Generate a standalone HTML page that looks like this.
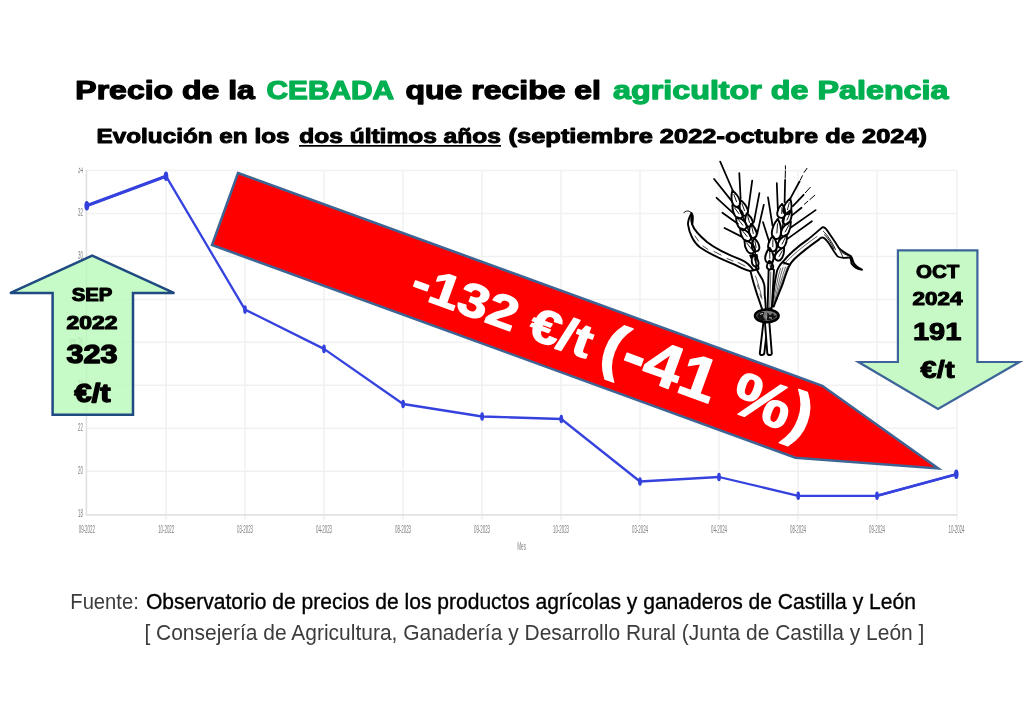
<!DOCTYPE html>
<html lang="es">
<head>
<meta charset="utf-8">
<title>Precio de la CEBADA que recibe el agricultor de Palencia</title>
<style>
html,body{margin:0;padding:0;background:#fff;}
body{width:1024px;height:724px;overflow:hidden;position:relative;font-family:"Liberation Sans",sans-serif;}
svg{position:absolute;left:0;top:0;display:block;}
text{font-family:"Liberation Sans",sans-serif;}
.blk{font-weight:bold;stroke-linejoin:round;paint-order:stroke fill;}
.tick{font-size:11px;fill:#7d7d7d;}
</style>
</head>
<body>
<svg id="main" width="1024" height="724" viewBox="0 0 1024 724">
<defs>
<filter id="soft" x="-5%" y="-5%" width="110%" height="110%"><feGaussianBlur stdDeviation="0.6"/></filter>
</defs>

<!-- ===== chart ===== -->
<g id="chart" filter="url(#soft)">
<g stroke="#f1f1f1" stroke-width="1.5" fill="none">
<path d="M86 170.5H957M86 213.4H957M86 256.4H957M86 299.4H957M86 342.3H957M86 385.3H957M86 428.3H957M86 471.2H957"/>
<path d="M166 170V520M245 170V520M324 170V520M403 170V520M482 170V520M561 170V520M640 170V520M719 170V520M798 170V520M877 170V520M957 170V520"/>
</g>
<path d="M86.4 170V515.5M85.6 514.8H957" stroke="#e2e2e2" stroke-width="1.7" fill="none"/>
<polyline points="86.5,205.8 166,176.2 245,309.6 324,348.9 403.1,404 482.1,416.5 561.3,419 640,481.5 719,477 798.2,495.8 877,495.8 956.3,474.3" fill="none" stroke="#3643de" stroke-width="2.3" stroke-linejoin="round"/>
<path d="M86.5,205.8 L166,176.2" stroke="#3643de" stroke-width="3.1" fill="none" stroke-linecap="round"/><path d="M877,495.8 L956.3,474.3" stroke="#3643de" stroke-width="2.7" fill="none" stroke-linecap="round"/>
<g fill="#3340dc">
<ellipse cx="86.8" cy="205.8" rx="2.4" ry="4.8"/><ellipse cx="166" cy="176.2" rx="2.3" ry="4.8"/><ellipse cx="245" cy="309.6" rx="1.9" ry="4.3"/><ellipse cx="324" cy="348.9" rx="1.9" ry="4.3"/><ellipse cx="403.1" cy="404" rx="1.9" ry="4.3"/><ellipse cx="482.1" cy="416.5" rx="1.9" ry="4.3"/><ellipse cx="561.3" cy="419" rx="1.9" ry="4.3"/><ellipse cx="640" cy="481.5" rx="1.9" ry="4.3"/><ellipse cx="719" cy="477" rx="1.9" ry="4.3"/><ellipse cx="798.2" cy="495.8" rx="1.9" ry="4.3"/><ellipse cx="877" cy="495.8" rx="1.9" ry="4.3"/><ellipse cx="956.3" cy="474.3" rx="2.3" ry="4.8"/>
</g>
</g>

<!-- ===== tick labels ===== -->
<g class="tick" filter="url(#soft)">
<g text-anchor="middle">
<text transform="translate(86.8,533) scale(0.4,1)">09-2022</text>
<text transform="translate(166.2,533) scale(0.4,1)">10-2022</text>
<text transform="translate(245.0,533) scale(0.4,1)">03-2023</text>
<text transform="translate(324.0,533) scale(0.4,1)">04-2023</text>
<text transform="translate(403.0,533) scale(0.4,1)">08-2023</text>
<text transform="translate(482.0,533) scale(0.4,1)">09-2023</text>
<text transform="translate(561.0,533) scale(0.4,1)">10-2023</text>
<text transform="translate(640.0,533) scale(0.4,1)">03-2024</text>
<text transform="translate(719.0,533) scale(0.4,1)">04-2024</text>
<text transform="translate(798.0,533) scale(0.4,1)">08-2024</text>
<text transform="translate(877.0,533) scale(0.4,1)">09-2024</text>
<text transform="translate(956.5,533) scale(0.4,1)">10-2024</text>
<text transform="translate(521.6,550.4) scale(0.44,1)" font-size="10.5">Mes</text>
</g>
<text transform="translate(75.5,345) rotate(-90) scale(0.42,1)" text-anchor="middle" font-size="10.5">Precio</text>
<g text-anchor="end">
<text transform="translate(83,173.4) scale(0.4,1)">34</text>
<text transform="translate(83,216.3) scale(0.4,1)">32</text>
<text transform="translate(83,259.3) scale(0.4,1)">30</text>
<text transform="translate(83,302.3) scale(0.4,1)">28</text>
<text transform="translate(83,345.2) scale(0.4,1)">26</text>
<text transform="translate(83,388.2) scale(0.4,1)">24</text>
<text transform="translate(83,431.2) scale(0.4,1)">22</text>
<text transform="translate(83,474.1) scale(0.4,1)">20</text>
<text transform="translate(83,517.3) scale(0.4,1)">18</text>
</g>
</g>

<rect x="60" y="158" width="26" height="9.6" fill="#fff"/>
<!-- ===== wheat ===== -->
<g id="wheat">
<g fill="#fff" stroke="#000" stroke-width="1.9" stroke-linejoin="round" stroke-linecap="round">
<!-- left leaf -->
<path d="M691.5,213 C694.5,217 692,221 692.4,224.9 C694,230 701,237 707.3,242.3 C716,249 730,255.5 740.9,259.7 C746,261.8 751,266 754.6,272 C748,271.5 740,267.5 734.7,264.7 C722,259.5 707,252.5 699.9,247.3 C693,242 689,232 688.1,224.9 C687.5,220 690,216 691.5,213 Z"/>
<path d="M691.5,213.5 C693.8,217 691.5,221 692,225 C690.5,222.5 690.3,217.5 691.5,213.5 Z" fill="#000" stroke-width="0.8"/>
<path d="M683.8,212.8 C685.2,210.4 689.6,210.2 691.5,213" fill="none" stroke-width="1"/>
<path d="M695,236 L698.5,241 M703,246 L708,249.5 M714,251.5 L721,255 M727,258.5 L733,261 M738,262.5 L745,266" fill="none" stroke-width="0.7"/>
<!-- right leaf -->
<path d="M782.4,262.3 C790,253 800,245 807.3,239.9 C812,236.5 818,231 822.2,227.4 C825,226.5 827,230 828.5,232.4 C831,236 836,243 838.4,247.3 C841,250.5 847,254 850.8,256 C852.5,258 852.5,260 853.3,262.3 C855,265.5 858,268 862,269.7 C859,269.5 857,269 855.8,267.9 C853,265.5 852,264 851.5,263.5 C851,260 851,258 849.6,257.3 C847,257.8 845,258 843.4,257.9 C840,257.5 838,257 837.2,256 C835,253 833,250 832.2,248.6 C830,245 828.5,242.5 827.2,241.1 C825.5,239 824,237.5 822.2,237.4 C820,238 819,239.5 818.5,239.9 C812,244.5 802,252 794.9,258.5 C792,261.5 790.5,263.5 789.9,264.8 Z"/>
<path d="M823.5,231.5 C827,234.5 832,242 835.5,249.5 M824.5,234.8 C828,237.5 831,243 834,249 M838.4,247.3 C840,251 842,255 843.4,257.9 M850.8,256 C848,255.5 845,255 841.5,252" fill="none" stroke-width="0.9"/>
<!-- right sheath -->
<path d="M772.3,306 C773,296 775,280 777,271 C779,266 781,263.5 782.4,262.3 L789.9,264.8 C787,270 784,280 782.4,284.7 C780,291 776,300 773.8,306.5 Z"/>
<path d="M773.6,303 C775,292 777.5,278 780.5,268.5 M774.6,303 C776.5,292 779.5,278 783,267.5 M775.6,302 C778,291 781.5,278 785.5,267 M776.8,300 C779.5,290 783,278 787.6,266.5 M783.5,265 C790,257 802,247 817,236.5" fill="none" stroke-width="0.6"/>
<!-- central stem -->
<path d="M767.6,309 L768.6,270.5 L771.5,268 L774,270 L771.8,308 Z"/>
<path d="M769.8,307 L770.8,272" fill="none" stroke-width="0.6"/>
<!-- left ear stem + sheath -->
<path d="M750.3,255.7 L756.8,269.5 L758.6,268.8 L756.8,255 Z"/>
<path d="M750.5,271 C752,278 755,288 757.5,295.6 C759.5,301 761,306 762.6,310.5 L765.8,309 C765.5,303 765.3,299 764.8,295.6 C764.5,291 765,287 764.1,284 C763,279.5 760.5,276 759,273.8 C758,272 757.3,270.5 756.8,269.5 Z"/>
<path d="M755.5,276 C758,283 760.5,291 762,299 M757.5,285 L758.5,288.5 M760,294 L760.8,297" fill="none" stroke-width="0.6"/>
<!-- lower stems -->
<path d="M763.6,320.5 L768,320.5 L764.3,353.4 C764,355.6 759.6,355.6 759.8,353.4 Z"/>
<path d="M764.8,320.5 L769.2,320.5 L771.8,353.4 C771.9,355.6 767.4,355.6 767.3,353.4 Z"/>
</g>
<!-- knot -->
<ellipse cx="766.8" cy="315.8" rx="11.8" ry="6.3" fill="#777" stroke="#000" stroke-width="2.6"/>
<path d="M757,316.5 C758,319.5 762,321 766,320 C763,318 762.5,315 764.5,312.5 C761,311 757.5,313 757,316.5 Z M767.5,312.5 L770,315.5 L773,312.8 L774.5,316 L777,314.5 C776,319 771,320.5 767,320 Z" fill="#111"/>
<path d="M760,314.3 L763,313.4 M769,317.6 L772,318.2 M765.5,316 L767,317.4" stroke="#ccc" stroke-width="1" fill="none"/>
<path d="M756.3,266.3 C760.5,265.2 758.5,258.6 753.0,254.3 C750.4,260.8 752.1,267.5 756.3,266.3Z M753.3,252.7 C757.8,249.6 752.8,242.7 744.5,239.9 C744.1,248.6 748.8,255.8 753.3,252.7Z M756.3,251.4 C761.2,250.7 759.9,243.4 754.3,238.1 C750.4,244.8 751.3,252.2 756.3,251.4Z M749.6,240.5 C753.9,237.2 748.5,230.5 740.1,228.1 C740.2,236.8 745.2,243.8 749.6,240.5Z M753.8,237.8 C758.7,236.8 757.0,229.1 751.1,223.7 C747.6,231.0 748.9,238.7 753.8,237.8Z M745.2,229.1 C749.6,225.8 744.4,219.2 736.1,216.9 C736.0,225.5 740.8,232.3 745.2,229.1Z M750.2,226.6 C755.0,225.3 752.9,218.1 746.7,213.3 C743.6,220.5 745.3,227.9 750.2,226.6Z M741.4,217.9 C745.8,214.8 740.7,207.8 732.4,205.1 C732.2,213.9 736.9,221.0 741.4,217.9Z M745.7,215.4 C750.5,213.8 747.4,205.3 740.5,199.9 C738.3,208.4 741.0,217.0 745.7,215.4Z M737.8,206.7 C742.7,205.1 739.6,196.2 732.4,190.6 C730.0,199.4 732.8,208.4 737.8,206.7Z M770.3,269.4 C774.6,269.0 774.0,264.2 769.4,260.7 C765.7,265.1 766.0,269.9 770.3,269.4Z M769.2,263.0 C774.9,263.2 774.9,254.8 769.7,247.7 C764.0,254.4 763.5,262.8 769.2,263.0Z M776.5,260.1 C780.9,262.6 784.8,255.5 784.0,247.3 C776.5,250.7 772.2,257.6 776.5,260.1Z M772.2,251.4 C778.1,251.7 778.2,243.1 772.8,235.9 C766.9,242.7 766.3,251.2 772.2,251.4Z M779.6,247.7 C784.0,250.1 787.8,242.8 786.7,234.7 C779.3,238.2 775.2,245.3 779.6,247.7Z M775.9,239.0 C782.2,239.6 783.0,228.4 777.8,218.8 C770.9,227.3 769.6,238.4 775.9,239.0Z M782.4,236.1 C786.7,238.6 791.2,230.3 790.8,221.2 C782.8,225.6 778.0,233.7 782.4,236.1Z M780.9,217.9 C786.3,218.4 786.8,210.6 782.1,203.9 C776.3,209.7 775.4,217.4 780.9,217.9Z M784.6,224.1 C789.1,226.3 792.7,218.3 791.4,209.8 C784.0,214.2 780.1,221.9 784.6,224.1Z M785.8,214.2 C790.9,215.6 793.1,207.0 790.2,198.6 C783.4,204.3 780.8,212.8 785.8,214.2Z" fill="#fff" stroke="#000" stroke-width="1.9" stroke-linejoin="round"/>
<path d="M755.6,262.6 L754.0,257.3 M751.0,248.6 L746.8,243.0 M756.1,247.4 L755.0,241.4 M747.1,236.5 L742.7,231.1 M753.3,233.5 L751.9,227.2 M742.8,225.2 L738.6,219.8 M749.5,222.5 L747.8,216.6 M739.0,213.8 L734.8,208.2 M744.5,210.6 L742.0,203.7 M736.5,201.7 L733.9,194.5 M770.4,266.8 L769.8,262.9 M769.8,258.4 L769.8,251.5 M779.1,256.5 L782.3,250.6 M772.8,246.8 L772.9,239.8 M782.1,244.0 L785.1,238.0 M776.9,233.0 L777.5,223.8 M785.2,231.9 L788.9,225.1 M781.7,213.7 L782.0,207.4 M787.0,220.0 L789.9,213.5 M787.5,209.6 L789.3,202.6" fill="none" stroke="#000" stroke-width="0.9" stroke-linecap="round"/>
<path d="M738.6,206.7 L743.0,217.3 L747.6,227.8 L751.7,239.0 L755.0,251.4 L756.3,265.7 M785.0,214.2 L783.1,224.1 L780.2,236.5 L776.5,249.6 L773.2,260.7 L770.7,268.8" fill="none" stroke="#000" stroke-width="1.5" stroke-linejoin="round" stroke-linecap="round"/>
<path d="M732.7,190.5 L720.2,161.6 M740.6,198.4 L739.3,173.2 M748.1,210.6 L752.2,180.7 M753.9,222.2 L759.4,193.1 M757.2,233.8 L763.8,204.8 M732.0,201.4 L714.1,179.0 M734.0,213.9 L716.6,197.8 M737.8,223.8 L722.4,212.7 M741.5,236.6 L724.5,228.0 M790.4,198.4 L799.5,181.5 M784.6,202.3 L785.1,179.9 M777.9,210.6 L776.8,183.2 M772.5,225.5 L768.0,197.3 M769.3,242.1 L763.0,222.2 M792.9,206.1 L803.6,194.8 M792.0,215.4 L801.5,207.7 M791.2,227.3 L815.6,210.1 M787.4,238.9 L811.9,221.2" fill="none" stroke="#000" stroke-width="1.75" stroke-linecap="round"/>
<path d="M800.2,180.2 L802.5,175.7 M804.1,172.4 L807.0,168.3 M785.2,178.2 L785.4,170.8 M785.4,169.1 L785.4,165.8 M805.3,192.8 L810.3,187.3 M804.3,204.3 L807.8,201.3 M809.8,199.6 L814.8,195.3" fill="none" stroke="#000" stroke-width="1.0" stroke-linecap="round"/>
</g>
<!-- ===== /wheat ===== -->

<!-- ===== red arrow ===== -->
<g id="redarrow">
<polygon points="238,173 822.3,385.8 938.3,468.5 795.4,457.7 212,245" fill="#ff0000" stroke="#3e6494" stroke-width="2.5" stroke-linejoin="miter"/>
</g>

<!-- ===== green arrows ===== -->
<polygon points="92.2,255.6 174.4,293.1 133,293.1 133,414.8 52.6,414.8 52.6,293.1 10,293.1" fill="#b8f9b8" fill-opacity="0.8" stroke="#1f4a82" stroke-width="2.5" stroke-linejoin="miter"/>
<polygon points="897.9,250.4 977.4,250.4 977.4,362 1019.4,362 938,409 858.4,362 897.9,362" fill="#c2f9c2" fill-opacity="0.93" stroke="#3c6499" stroke-width="2.2" stroke-linejoin="miter"/>

<!-- ===== titles ===== -->
<g class="blk" font-size="26.5" stroke-width="1.25">
<text x="75.3" y="99" textLength="179.6" lengthAdjust="spacingAndGlyphs" fill="#000" stroke="#000">Precio de la</text>
<text x="266.5" y="99" textLength="127.5" lengthAdjust="spacingAndGlyphs" fill="#00b050" stroke="#00b050">CEBADA</text>
<text x="405.5" y="99" textLength="195.5" lengthAdjust="spacingAndGlyphs" fill="#000" stroke="#000">que recibe el</text>
<text x="613" y="99" textLength="335.5" lengthAdjust="spacingAndGlyphs" fill="#00b050" stroke="#00b050">agricultor de Palencia</text>
</g>
<g class="blk" font-size="19.6" stroke-width="0.95" fill="#000" stroke="#000">
<text x="96.5" y="143" textLength="193" lengthAdjust="spacingAndGlyphs">Evolución en los</text>
<text x="299.3" y="143" textLength="201.5" lengthAdjust="spacingAndGlyphs">dos últimos años</text>
<text x="508.6" y="143" textLength="418.5" lengthAdjust="spacingAndGlyphs">(septiembre 2022-octubre de 2024)</text>
</g>
<rect x="299" y="145" width="202" height="1.7" fill="#000"/>

<!-- ===== footer ===== -->
<g font-size="22" fill="#111">
<text x="70.3" y="609.3" textLength="68.5" lengthAdjust="spacingAndGlyphs" fill="#3c3c3c">Fuente:</text>
<text x="145.9" y="609.3" textLength="770" lengthAdjust="spacingAndGlyphs" fill="#000" stroke="#000" stroke-width="0.35">Observatorio de precios de los productos agrícolas y ganaderos de Castilla y León</text>
<text x="144.4" y="640.2" textLength="780" lengthAdjust="spacingAndGlyphs" fill="#3c3c3c">[ Consejería de Agricultura, Ganadería y Desarrollo Rural (Junta de Castilla y León ]</text>
</g>

<!-- ===== arrow labels ===== -->
<g class="blk" fill="#000" stroke="#000" text-anchor="middle">
<g stroke-width="1.1">
<text x="92" y="301" font-size="17.6" textLength="40.6" lengthAdjust="spacingAndGlyphs">SEP</text>
<text x="92" y="328.8" font-size="18.2" textLength="51" lengthAdjust="spacingAndGlyphs">2022</text>
<text x="92" y="363.2" font-size="25" textLength="51" lengthAdjust="spacingAndGlyphs" stroke-width="1.4">323</text>
<text x="92.5" y="401.6" font-size="25" textLength="36" lengthAdjust="spacingAndGlyphs" stroke-width="1.4">€/t</text>
</g>
<g stroke-width="1.0">
<text x="937.6" y="277.5" font-size="18" textLength="43.3" lengthAdjust="spacingAndGlyphs">OCT</text>
<text x="937.4" y="304.6" font-size="18.2" textLength="50" lengthAdjust="spacingAndGlyphs">2024</text>
<text x="937.2" y="340" font-size="24.4" textLength="48.5" lengthAdjust="spacingAndGlyphs">191</text>
<text x="937.6" y="377.8" font-size="24.4" textLength="34" lengthAdjust="spacingAndGlyphs">€/t</text>
</g>
</g>

<!-- ===== red arrow label ===== -->
<g transform="translate(415,288) rotate(20)" fill="#fff" stroke="#fff" stroke-width="1.2" stroke-linejoin="round" font-weight="bold">
<text x="-4" y="8" font-size="47" textLength="189" lengthAdjust="spacingAndGlyphs">-132 €/t</text>
<text x="196.5" y="8" font-size="61" textLength="221" lengthAdjust="spacingAndGlyphs">(-41 %)</text>
</g>

</svg>
</body>
</html>
